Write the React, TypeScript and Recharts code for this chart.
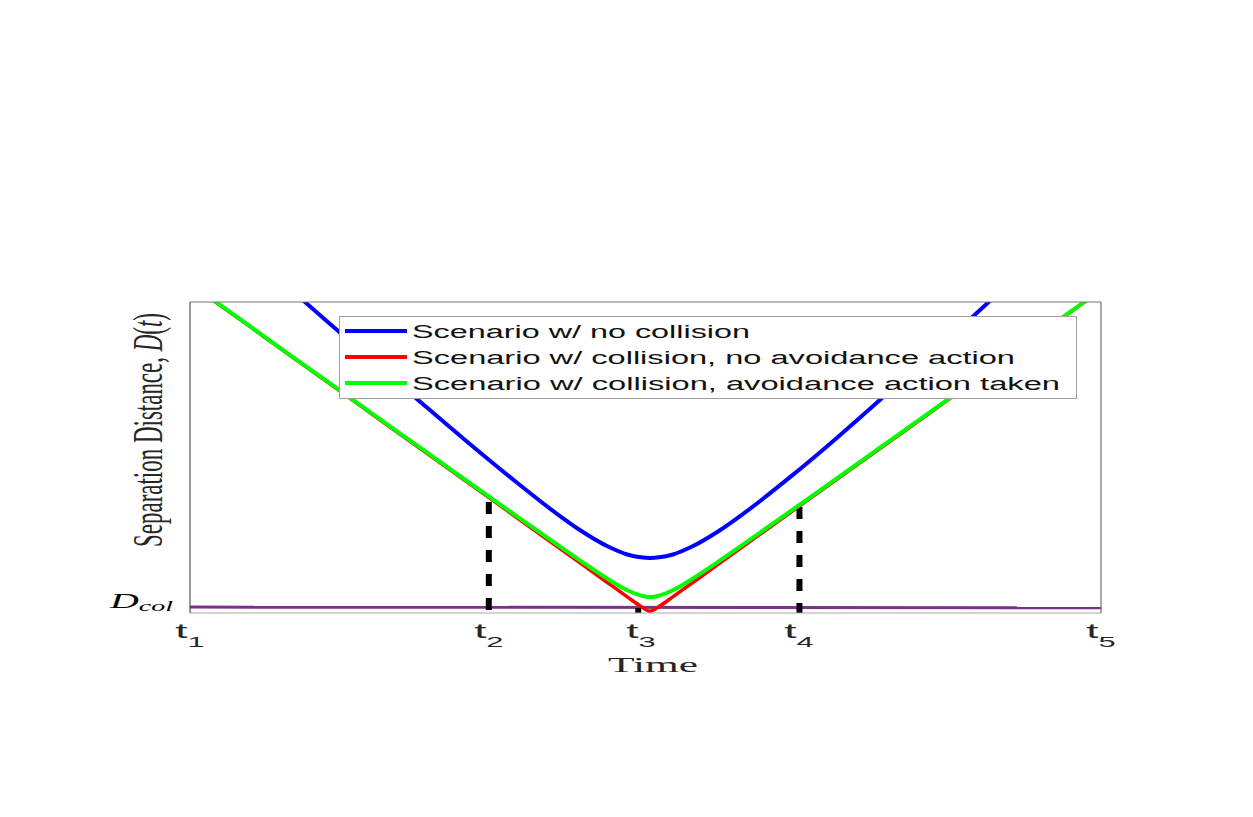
import { LineChart, Line, XAxis, YAxis, ReferenceLine, Legend } from 'recharts'

// time axis runs 0..100, tick marks at t1..t5
const TICK_POS = [0, 32.8, 49.5, 66.85, 100]
const TICK_SUB = ['1', '2', '3', '4', '5']
const TOP_TICKS = [32.8, 49.5, 66.85]

// sample times for the three separation curves
const X_POS = [0, 5, 10, 15, 20, 25, 30, 35, 40, 43, 46, 48, 49.5, 50.5, 51.5, 53, 55, 58, 61, 66, 71, 76, 81, 86, 91, 96, 100]
const NO_COLLISION = [132.4, 119.6, 106.7, 93.9, 81.2, 68.6, 56.1, 44.0, 32.5, 26.3, 21.2, 18.8, 17.9, 17.7, 17.9, 18.8, 21.2, 26.3, 32.5, 44.0, 56.3, 69.2, 82.5, 95.5, 109.0, 122.0, 132.5]
const COLLISION_NO_ACTION = [105.8, 95.4, 84.9, 74.4, 63.9, 53.4, 43.0, 32.5, 22.0, 15.7, 9.4, 5.2, 2.1, 0.6, 2.1, 5.2, 9.4, 15.7, 22.0, 32.5, 43.0, 53.4, 63.9, 74.4, 84.9, 95.4, 103.8]
const COLLISION_AVOID = [106.0, 95.5, 85.0, 74.6, 64.1, 53.7, 43.3, 32.9, 22.6, 16.5, 10.7, 7.3, 5.6, 5.1, 5.6, 7.3, 10.7, 16.5, 22.6, 32.9, 43.3, 53.7, 64.1, 74.6, 85.0, 95.5, 103.9]

// collision distance threshold
const DCOL_X = [0, 100]
const DCOL_Y = [1.9, 1.7]

// dashed markers at t2, t3, t4
const DASH_X = [32.8, 49.2, 66.9]
const DASH_TOP = [35.7, 1.6, 34.1]

const SERIES = [
  { key: 'blue', name: 'Scenario w/ no collision', color: '#0000ff', textLen: 338 },
  { key: 'red', name: 'Scenario w/ collision, no avoidance action', color: '#ff0000', textLen: 603 },
  { key: 'green', name: 'Scenario w/ collision, avoidance action taken', color: '#00ff00', textLen: 648 },
]

const data = X_POS.map((t, i) => ({
  t,
  blue: NO_COLLISION[i],
  red: COLLISION_NO_ACTION[i],
  green: COLLISION_AVOID[i],
}))

const dcolData = DCOL_X.map((t, i) => ({ t, d: DCOL_Y[i] }))

function TimeTick(props: any) {
  const { x, payload } = props
  const idx = TICK_POS.indexOf(payload.value)
  return (
    <g transform={`translate(${x},630)`}>
      <text transform="scale(2.2,1)" textAnchor="middle" fontFamily="Liberation Sans" fill="#262626">
        <tspan fontSize={20}>t</tspan>
        <tspan fontSize={14} dy={9}>{TICK_SUB[idx]}</tspan>
      </text>
    </g>
  )
}

function DcolTick(props: any) {
  const { y } = props
  return (
    <g transform={`translate(165,${y + 1})`}>
      <text transform="scale(2,1)" textAnchor="end" fontFamily="Liberation Serif" fontStyle="italic" fill="#000">
        <tspan fontSize={20}>D</tspan>
        <tspan fontSize={14} dy={3}>col</tspan>
      </text>
    </g>
  )
}

const EmptyTick = () => <g />

function YLabel() {
  return (
    <text
      transform="translate(154,422) rotate(-90)"
      textAnchor="middle"
      fontFamily="Liberation Serif"
      fontSize={42}
      fill="#262626"
      textLength={234}
      lengthAdjust="spacingAndGlyphs"
    >
      Separation Distance, <tspan fontStyle="italic">D</tspan>(<tspan fontStyle="italic">t</tspan>)
    </text>
  )
}

function XLabel() {
  return (
    <text
      x={645}
      y={664}
      textAnchor="middle"
      fontFamily="Liberation Serif"
      fontSize={22}
      fill="#262626"
      textLength={90}
      lengthAdjust="spacingAndGlyphs"
    >
      Time
    </text>
  )
}

function LegendBox() {
  return (
    <svg width={738} height={83} style={{ display: 'block' }}>
      <rect x={0.5} y={0.5} width={737} height={82} fill="#fff" stroke="#a0a0a0" />
      {SERIES.map((s, i) => (
        <g key={s.key}>
          <line x1={6} x2={68} y1={15 + i * 26} y2={15 + i * 26} stroke={s.color} strokeWidth={4} />
          <text
            x={73}
            y={22 + i * 26}
            fontFamily="Liberation Sans"
            fontSize={18}
            fill="#111"
            textLength={s.textLen}
            lengthAdjust="spacingAndGlyphs"
          >
            {s.name}
          </text>
        </g>
      ))}
    </svg>
  )
}

export default function App() {
  return (
    <div style={{ width: 1237, height: 801, position: 'relative' }}>
      <LineChart width={1237} height={801} data={data} margin={{ top: 294, right: 144, left: 122, bottom: 136 }}>
        <XAxis
          xAxisId="b"
          dataKey="t"
          type="number"
          domain={[0, 100]}
          ticks={TICK_POS}
          tick={<TimeTick />}
          tickLine={false}
          axisLine={{ stroke: '#a8a8a8' }}
          height={60}
          label={{ content: () => <XLabel /> }}
        />
        <XAxis
          xAxisId="top"
          orientation="top"
          mirror
          type="number"
          domain={[0, 100]}
          ticks={TOP_TICKS}
          tick={EmptyTick}
          tickSize={5}
          tickLine={{ stroke: '#666' }}
          axisLine={{ stroke: '#777' }}
          height={1}
        />
        <YAxis
          yAxisId="l"
          type="number"
          domain={[0, 100]}
          allowDataOverflow
          ticks={[1.9]}
          tick={<DcolTick />}
          tickLine={false}
          axisLine={{ stroke: '#333' }}
          width={60}
          label={{ content: () => <YLabel /> }}
        />
        <YAxis
          yAxisId="r"
          orientation="right"
          mirror
          type="number"
          domain={[0, 100]}
          ticks={[50]}
          tick={EmptyTick}
          tickLine={false}
          axisLine={{ stroke: '#555' }}
          width={1}
        />
        <Line
          xAxisId="b"
          yAxisId="l"
          data={dcolData}
          dataKey="d"
          type="linear"
          stroke="#7e2f8e"
          strokeWidth={3}
          dot={false}
          legendType="none"
          isAnimationActive={false}
        />
        {DASH_X.map((x, i) => (
          <ReferenceLine
            key={i}
            xAxisId="b"
            yAxisId="l"
            segment={[{ x, y: DASH_TOP[i] }, { x, y: 0 }]}
            stroke="#000"
            strokeWidth={6}
            strokeDasharray="12 12"
          />
        ))}
        {SERIES.map(s => (
          <Line
            key={s.key}
            xAxisId="b"
            yAxisId="l"
            dataKey={s.key}
            name={s.name}
            type="monotone"
            stroke={s.color}
            strokeWidth={s.key === 'red' ? 3.5 : 4}
            dot={false}
            isAnimationActive={false}
          />
        ))}
        <Legend
          layout="horizontal"
          verticalAlign="middle"
          align="center"
          content={() => <LegendBox />}
          wrapperStyle={{ left: 331, top: 308, width: 738, height: 83 }}
        />
      </LineChart>
    </div>
  )
}
